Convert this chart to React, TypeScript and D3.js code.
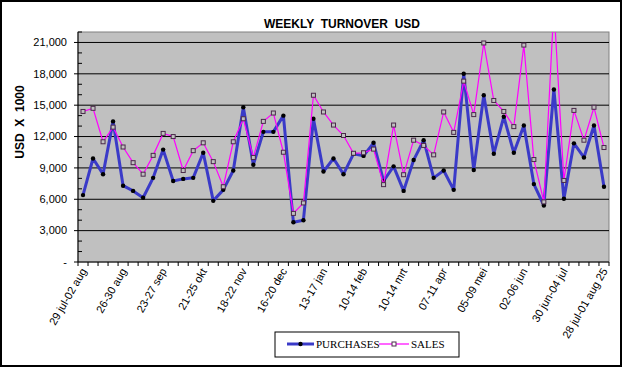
import React from "react";
import * as d3 from "d3";

// weekly values, USD x 1000
const purchases = [
  6400, 9900, 8400, 13450, 7300, 6800, 6150, 8050, 10750, 7750, 7950,
  8050, 10450, 5850, 6900, 8750, 14800, 9300, 12450, 12450, 14000,
  3800, 4000, 13700, 8650, 9900, 8400, 10350, 10150, 11400, 7750, 9150,
  6800, 9750, 11650, 8050, 8750, 6900, 18000, 8800, 15950, 10350, 13900,
  10450, 13050, 7450, 5400, 16500, 6050, 11350, 10000, 13050, 7200,
];
const sales = [
  14400, 14700, 11500, 12900, 11000, 9500, 8400, 10200, 12300, 12000, 8750,
  10650, 11400, 9600, 7200, 11500, 13700, 10000, 13450, 14250, 10500,
  4650, 5650, 15950, 14350, 13100, 12100, 10400, 10450, 10800, 7400, 13100,
  8350, 11650, 11150, 10250, 14350, 12400, 17300, 14100, 20950, 15450, 14400,
  12950, 20750, 9800, 5750, 24500, 7800, 14500, 11650, 14800, 10950,
];
// one label every 4 weeks
const tickLabels = [
  "29 jul-02 aug", "26-30 aug", "23-27 sep", "21-25 okt", "18-22 nov",
  "16-20 dec", "13-17 jan", "10-14 feb", "10-14 mrt", "07-11 apr",
  "05-09 mei", "02-06 jun", "30 jun-04 jul", "28 jul-01 aug 25",
];
const labelStep = 4;
const yMax = 22000;
const majorStep = 3000;
const minorStep = 1000;

const W = 623;
const H = 368;
const left = 78;
const right = 609;
const top = 32;
const bottom = 262;

const App = () => {
  const weeks = d3.range(purchases.length);
  const x = d3.scaleBand<number>().domain(weeks).range([left, right]).padding(0);
  const cx = (i: number) => (x(i) as number) + x.bandwidth() / 2;
  const y = d3.scaleLinear().domain([0, yMax]).range([bottom, top]);

  const line = d3
    .line<number>()
    .x((_, i) => cx(i))
    .y((d) => y(d));

  const majors = d3.range(0, yMax + 1, majorStep);
  const minors = d3.range(0, yMax + 1, minorStep).filter((v) => v % majorStep !== 0);
  const fmt = d3.format(",");
  const bounds = d3.range(purchases.length + 1).map((i) => left + i * x.step());

  const sans = "Arial, 'Liberation Sans', sans-serif";
  const serif = "'Times New Roman', 'Liberation Serif', serif";

  return (
    <svg width={W} height={H} style={{ position: "absolute", left: 0, top: 0 }}>
      <rect x={0} y={0} width={W} height={H} fill="#fff" />
      <rect x={1} y={1} width={620} height={365} fill="none" stroke="#000" strokeWidth={2} />

      <defs>
        <clipPath id="plot">
          <rect x={left} y={top} width={right - left} height={bottom - top} />
        </clipPath>
      </defs>

      {/* plot area */}
      <rect x={left} y={top} width={right - left} height={bottom - top} fill="#C0C0C0" stroke="#808080" />

      {/* gridlines */}
      {majors.filter((v) => v > 0).map((v) => (
        <line key={v} x1={left} x2={right} y1={y(v)} y2={y(v)} stroke="#000" strokeWidth={1} />
      ))}

      {/* y axis */}
      <line x1={left} x2={left} y1={top} y2={bottom} stroke="#000" />
      {majors.map((v) => (
        <g key={v}>
          <line x1={left - 4} x2={left} y1={y(v)} y2={y(v)} stroke="#000" />
          <text x={left - 11} y={y(v)} dy="0.35em" textAnchor="end" fontFamily={sans} fontSize="11px">
            {v === 0 ? "-" : fmt(v)}
          </text>
        </g>
      ))}
      {minors.map((v) => (
        <line key={v} x1={left} x2={left + 4} y1={y(v)} y2={y(v)} stroke="#000" />
      ))}

      {/* x axis */}
      <line x1={left} x2={right} y1={bottom} y2={bottom} stroke="#000" />
      {bounds.map((bx, i) => (
        <line key={i} x1={bx} x2={bx} y1={bottom} y2={bottom + 4} stroke="#000" />
      ))}
      {tickLabels.map((t, k) => {
        const px = cx(k * labelStep) + 4;
        const py = bottom + 9;
        return (
          <text
            key={t}
            transform={`translate(${px},${py}) rotate(-60)`}
            textAnchor="end"
            fontFamily={sans}
            fontSize="11px"
          >
            {t}
          </text>
        );
      })}

      {/* series */}
      <g clipPath="url(#plot)">
        <path d={line(purchases) ?? ""} fill="none" stroke="#3A3AC8" strokeWidth={3} strokeLinejoin="round" />
        {purchases.map((d, i) => (
          <circle key={i} cx={cx(i)} cy={y(d)} r={2.2} fill="#000" />
        ))}
        <path d={line(sales) ?? ""} fill="none" stroke="#FF00FF" strokeWidth={1.2} />
        {sales.map((d, i) => (
          <rect key={i} x={cx(i) - 2} y={y(d) - 2} width={4} height={4} fill="#C0C0C0" stroke="#4A2A4A" strokeWidth={1} />
        ))}
      </g>

      {/* titles */}
      <text x={342} y={28} textAnchor="middle" fontFamily={sans} fontWeight="bold" fontSize="12px" style={{ whiteSpace: "pre" }}>
        {"WEEKLY  TURNOVER  USD"}
      </text>
      <text
        transform="translate(24,122) rotate(-90)"
        textAnchor="middle"
        fontFamily={sans}
        fontWeight="bold"
        fontSize="12px"
        style={{ whiteSpace: "pre" }}
      >
        {"USD  X  1000"}
      </text>

      {/* legend */}
      <rect x={275} y={332} width={184} height={25} fill="#fff" stroke="#000" />
      <line x1={287} x2={314} y1={344} y2={344} stroke="#3A3AC8" strokeWidth={3} />
      <circle cx={300.5} cy={344} r={2.2} fill="#000" />
      <text x={316} y={348} fontFamily={serif} fontSize="11px">PURCHASES</text>
      <line x1={379} x2={409} y1={344} y2={344} stroke="#FF00FF" strokeWidth={1.2} />
      <rect x={392} y={342} width={4} height={4} fill="#fff" stroke="#4A2A4A" />
      <text x={411} y={348} fontFamily={serif} fontSize="11px">SALES</text>
    </svg>
  );
};

export default App;
